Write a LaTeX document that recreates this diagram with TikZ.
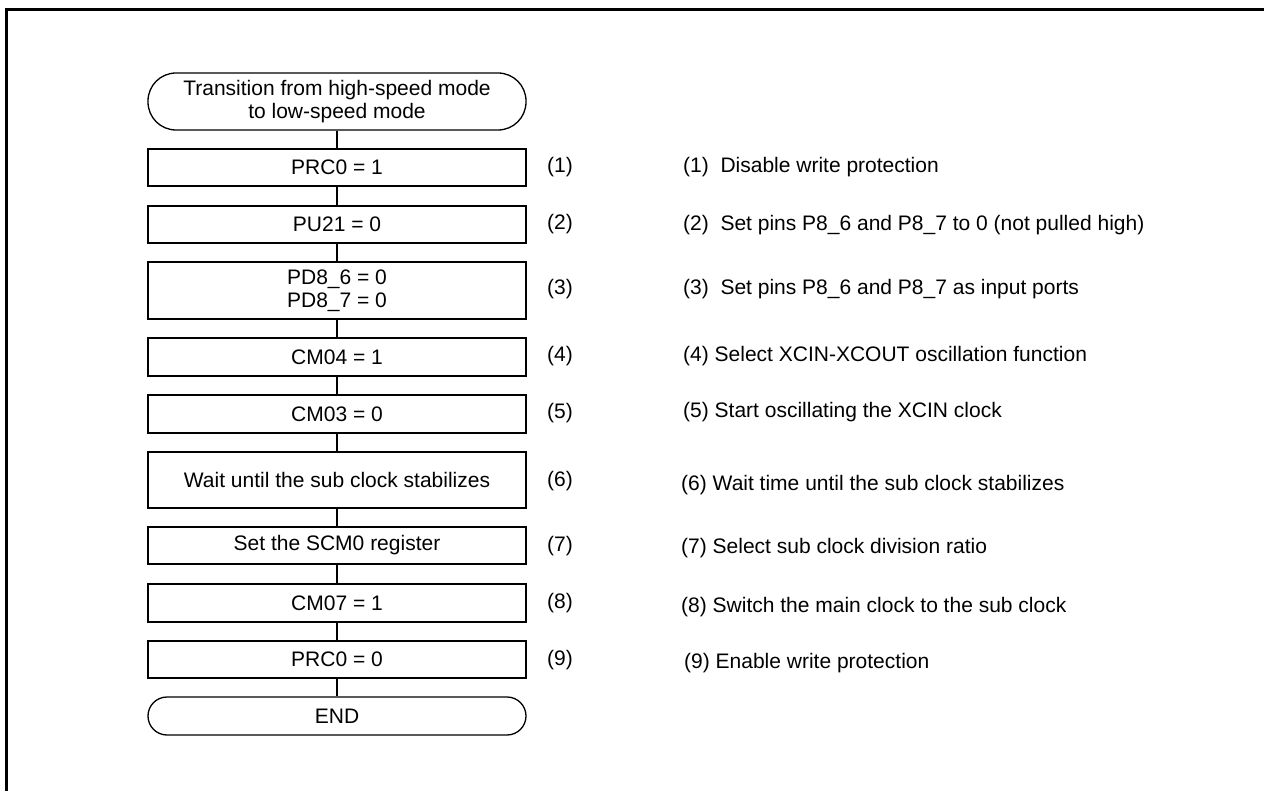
\documentclass[tikz,border=0pt]{standalone}
\usepackage{fontspec}
\setmainfont{Liberation Sans}
\begin{document}
\begin{tikzpicture}[x=1pt,y=-1pt,
  flow/.style={draw, line width=1.3pt, minimum width=378pt, inner sep=0pt, align=center,
    font=\fontsize{21}{23}\selectfont},
  term/.style={flow, rounded corners=#1},
  num/.style={anchor=base, inner sep=0pt, font=\fontsize{21}{23}\selectfont},
  desc/.style={anchor=base west, inner sep=0pt, font=\fontsize{21}{23}\selectfont},
  link/.style={line width=1.3pt},
  frame/.style={line width=3pt}]
\useasboundingbox (0,0) rectangle (1264,791);
\coordinate (fa) at (6,791);
\coordinate (fb) at (6,9.5);
\coordinate (fc) at (1264,9.5);
\draw[frame] (fa) -- (fb) -- (fc);

\node[term=28pt, minimum height=57pt] (s) at (337,101.5) {Transition from high-speed mode\\to low-speed mode};
\node[flow, minimum height=37pt] (b1) at (337,167.5) {PRC0 = 1};
\node[flow, minimum height=37pt] (b2) at (337,224.5) {PU21 = 0};
\node[flow, minimum height=57pt] (b3) at (337,290.5) {PD8\_6 = 0\\PD8\_7 = 0};
\node[flow, minimum height=38pt] (b4) at (337,357) {CM04 = 1};
\node[flow, minimum height=38pt] (b5) at (337,414) {CM03 = 0};
\node[flow, minimum height=56pt] (b6) at (337,480) {Wait until the sub clock stabilizes};
\node[flow, minimum height=37pt] (b7) at (337,545.5) {Set the SCM0 register};
\node[flow, minimum height=38pt] (b8) at (337,603) {CM07 = 1};
\node[flow, minimum height=37pt] (b9) at (337,659.5) {PRC0 = 0};
\node[term=19pt, minimum height=38pt] (e) at (337,716) {END};

\draw[link] (s) -- (b1);
\draw[link] (b1) -- (b2);
\draw[link] (b2) -- (b3);
\draw[link] (b3) -- (b4);
\draw[link] (b4) -- (b5);
\draw[link] (b5) -- (b6);
\draw[link] (b6) -- (b7);
\draw[link] (b7) -- (b8);
\draw[link] (b8) -- (b9);
\draw[link] (b9) -- (e);

\node[num] (n1) at (560,173) {(1)};
\node[num] (n2) at (560,230) {(2)};
\node[num] (n3) at (560,295) {(3)};
\node[num] (n4) at (560,362) {(4)};
\node[num] (n5) at (560,419) {(5)};
\node[num] (n6) at (560,486) {(6)};
\node[num] (n7) at (560,551) {(7)};
\node[num] (n8) at (560,608) {(8)};
\node[num] (n9) at (560,665) {(9)};

\node[desc] (d1) at (683,173) {(1)\ \ Disable write protection};
\node[desc] (d2) at (683,231) {(2)\ \ Set pins P8\_6 and P8\_7 to 0 (not pulled high)};
\node[desc] (d3) at (683,295) {(3)\ \ Set pins P8\_6 and P8\_7 as input ports};
\node[desc] (d4) at (683,362) {(4) Select XCIN-XCOUT oscillation function};
\node[desc] (d5) at (683,418) {(5) Start oscillating the XCIN clock};
\node[desc] (d6) at (681,490) {(6) Wait time until the sub clock stabilizes};
\node[desc] (d7) at (681,553) {(7) Select sub clock division ratio};
\node[desc] (d8) at (681,612) {(8) Switch the main clock to the sub clock};
\node[desc] (d9) at (684,668) {(9) Enable write protection};
\end{tikzpicture}
\end{document}
